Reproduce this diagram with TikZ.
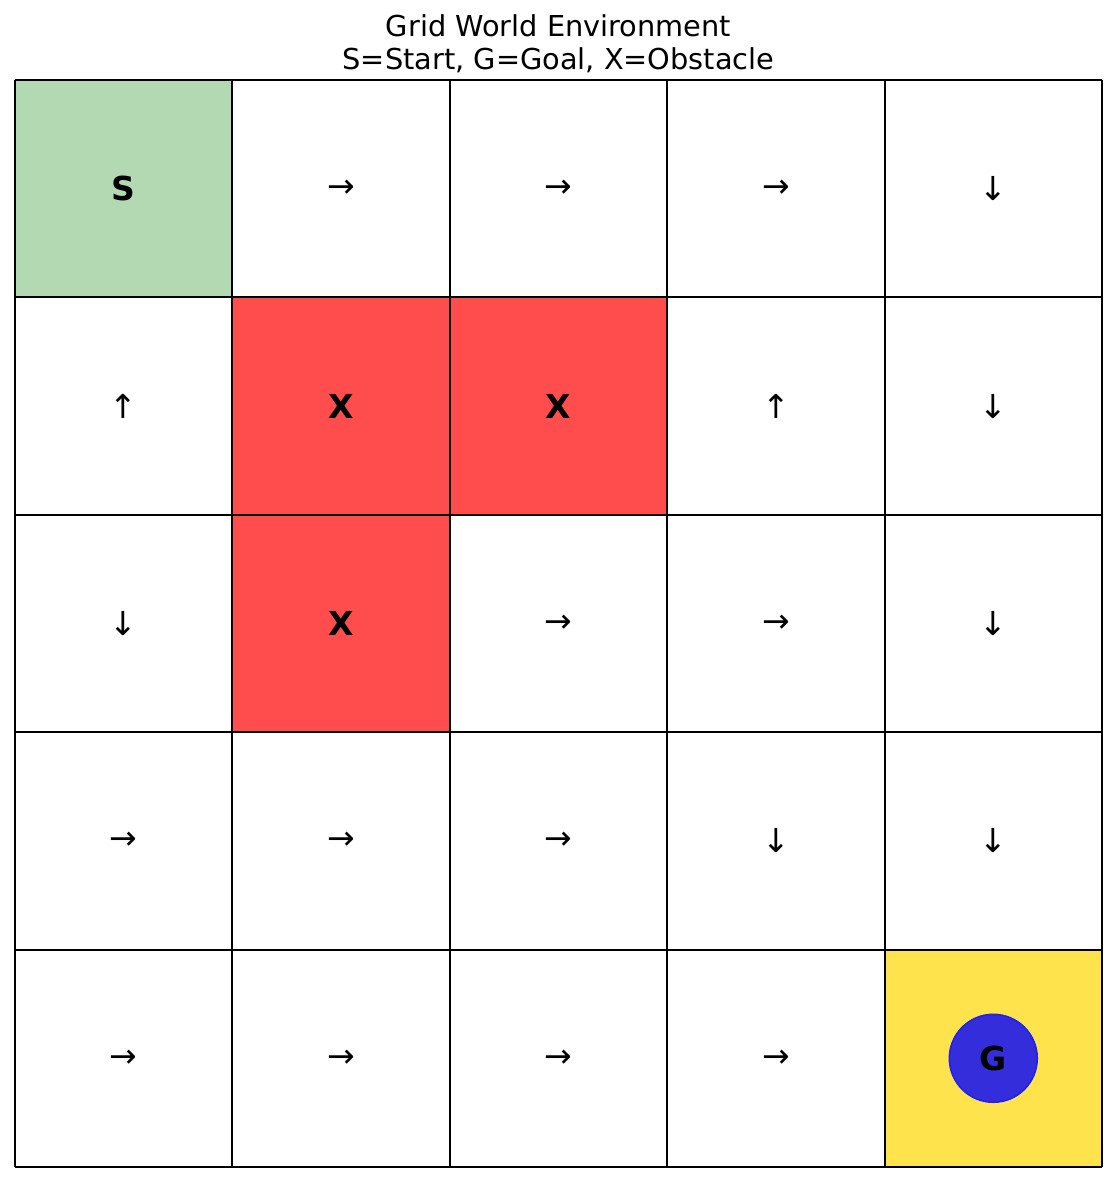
\documentclass[tikz,border=0pt]{standalone}
\usepackage{fontspec}
\setmainfont{DejaVu Sans}
\usepackage{tikz}
\usetikzlibrary{backgrounds}
\definecolor{start_green}{HTML}{B3D9B3}
\definecolor{wall_red}{HTML}{FF4D4D}
\definecolor{goal_yellow}{HTML}{FFE34D}
\definecolor{goal_blue}{HTML}{332DDB}
\definecolor{goal_edge}{HTML}{2020F0}

\begin{document}
\begin{tikzpicture}[
    x=108.7pt, y=108.7pt,  % one drawing unit = one grid cell
    celltext/.style={font=\fontsize{16.5}{19}\selectfont},
    cellbold/.style={font=\fontsize{16.5}{19}\selectfont\bfseries},
    titletext/.style={font=\fontsize{14.4}{16.5}\selectfont, anchor=base},
]

% ── Page frame ────────────────────────────────────────────────────────────────
\useasboundingbox (-0.069,-0.0736) rectangle (5.069,5.368);

% ── Title ─────────────────────────────────────────────────────────────────────
\node[titletext] (title) at (2.5,5.198) {Grid World Environment};
\node[titletext] (legend) at (2.5,5.046) {S=Start, G=Goal, X=Obstacle};

% ── Coloured cells ────────────────────────────────────────────────────────────
\fill[start_green] (0,4) rectangle (1,5);
\foreach \c/\r in {1/1, 2/1, 1/2} {
    \fill[wall_red] (\c,4-\r) rectangle (\c+1,5-\r);
}
\fill[goal_yellow] (4,0) rectangle (5,1);

% ── Grid lines ────────────────────────────────────────────────────────────────
\draw[black, line width=1pt, step=108.7pt] (0,0) grid (5,5);

% ── Start and obstacles ───────────────────────────────────────────────────────
\node[cellbold] (start) at (0.5,4.5) {S};
\foreach \c/\r in {1/1, 2/1, 1/2} {
    \node[cellbold] (wall-\r-\c) at ({\c+0.5},{4.5-\r}) {X};
}

% ── Policy arrows (row counted from the top) ──────────────────────────────────
\foreach \r/\c/\lab in {
    0/1/→, 0/2/→, 0/3/→, 0/4/↓,
    1/0/↑, 1/3/↑, 1/4/↓,
    2/0/↓, 2/2/→, 2/3/→, 2/4/↓,
    3/0/→, 3/1/→, 3/2/→, 3/3/↓, 3/4/↓,
    4/0/→, 4/1/→, 4/2/→, 4/3/→} {
    \node[celltext] (act-\r-\c) at ({\c+0.5},{4.5-\r}) {\lab};
}

% ── Goal ──────────────────────────────────────────────────────────────────────
\node[circle, fill=goal_blue, draw=goal_edge, line width=0.75pt,
      minimum size=44pt, inner sep=0pt, cellbold] (goal) at (4.5,0.5) {G};

\end{tikzpicture}
\end{document}
